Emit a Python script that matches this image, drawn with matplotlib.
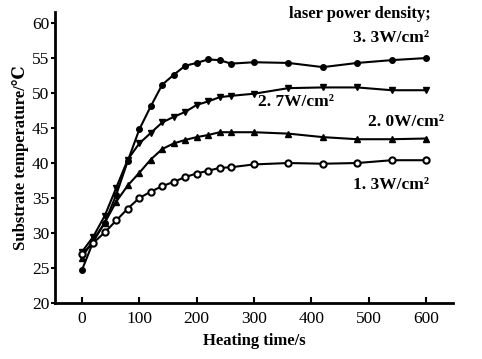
import matplotlib
matplotlib.use("Agg")
import matplotlib.pyplot as plt

plt.rcParams["font.family"] = ["Liberation Serif", "DejaVu Serif"]

time_s = [0, 20, 40, 60, 80, 100, 120, 140, 160, 180, 200, 220, 240, 260,
          300, 360, 420, 480, 540, 600]

temp_33 = [24.7, 28.8, 31.5, 35.5, 40.3, 44.8, 48.1, 51.2, 52.6, 53.9, 54.3,
           54.8, 54.7, 54.2, 54.4, 54.3, 53.7, 54.3, 54.7, 55.0]
temp_27 = [27.3, 29.5, 32.5, 36.5, 40.5, 42.8, 44.3, 45.8, 46.6, 47.3, 48.3,
           48.8, 49.4, 49.6, 49.9, 50.7, 50.8, 50.8, 50.4, 50.4]
temp_20 = [26.5, 29.0, 31.5, 34.5, 36.8, 38.6, 40.5, 42.0, 42.8, 43.3, 43.7,
           44.0, 44.4, 44.4, 44.4, 44.2, 43.7, 43.4, 43.4, 43.5]
temp_13 = [27.0, 28.6, 30.1, 31.8, 33.5, 35.0, 35.9, 36.7, 37.3, 38.0, 38.5,
           38.9, 39.3, 39.4, 39.8, 40.0, 39.9, 40.0, 40.4, 40.4]

labels = ["3. 3W/cm²", "2. 7W/cm²", "2. 0W/cm²", "1. 3W/cm²"]
label_pos = [(539, 57.9), (373, 48.7), (565, 45.9), (539, 36.9)]

fig = plt.figure(figsize=(4.82, 3.59), dpi=100)
ax = fig.add_axes([0.114, 0.156, 0.826, 0.811])

ax.plot(time_s, temp_33, color="black", lw=1.5, marker="o", ms=4)
ax.plot(time_s, temp_27, color="black", lw=1.5, marker="v", ms=4.5)
ax.plot(time_s, temp_20, color="black", lw=1.5, marker="^", ms=4.5)
ax.plot(time_s, temp_13, color="black", lw=1.5, marker="o", ms=4.5,
        markerfacecolor="white", markeredgewidth=1.5)

ax.set_xlim(-47, 647)
ax.set_ylim(20, 61.6)
ax.set_xticks([0, 100, 200, 300, 400, 500, 600])
ax.set_yticks([20, 25, 30, 35, 40, 45, 50, 55, 60])

for s in ["top", "right"]:
    ax.spines[s].set_visible(False)
ax.spines["left"].set_linewidth(2)
ax.spines["bottom"].set_linewidth(2)
ax.tick_params(axis="y", direction="out", length=3, width=1.5, pad=1, labelsize=12.5)
ax.tick_params(axis="x", direction="in", length=4, width=1.5, pad=6, labelsize=12.5)

ax.set_xlabel("Heating time/s", fontsize=12, fontweight="bold", labelpad=4)
ax.set_ylabel("Substrate temperature/℃", fontsize=12, fontweight="bold", labelpad=2)

ax.text(485, 61.3, "laser power density;", ha="center", va="center",
        fontsize=12, fontweight="bold", clip_on=False)
for lab, (tx, ty) in zip(labels, label_pos):
    ax.text(tx, ty, lab, ha="center", va="center", fontsize=12.5, fontweight="bold")

fig.savefig("out.png", dpi=100)
